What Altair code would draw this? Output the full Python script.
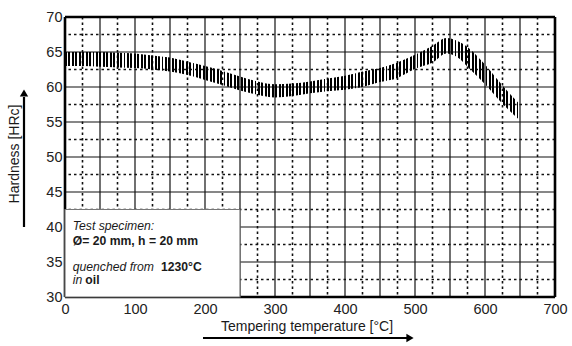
import altair as alt
import pandas as pd

# ---- data ----
temps = [0, 25, 50, 75, 100, 125, 150, 175, 200, 225, 250, 275, 300, 325, 350,
         375, 400, 425, 450, 475, 500, 525, 545, 560, 580, 600, 625, 650]
upper = [65.0, 65.0, 65.0, 64.9, 64.8, 64.5, 64.2, 63.6, 63.0, 62.3, 61.5, 60.8, 60.4, 60.5, 60.8,
         61.2, 61.6, 62.2, 62.7, 63.5, 64.6, 65.9, 67.0, 66.6, 65.3, 63.2, 60.2, 57.5]
lower = [63.0, 63.0, 62.9, 62.8, 62.7, 62.5, 62.2, 61.7, 61.0, 60.3, 59.5, 58.9, 58.5, 58.7, 59.1,
         59.4, 59.6, 60.0, 60.7, 61.3, 62.6, 63.5, 64.8, 64.3, 62.4, 60.4, 57.6, 55.2]

x_ticks = [0, 100, 200, 300, 400, 500, 600, 700]
y_ticks = [30, 35, 40, 45, 50, 55, 60, 65, 70]
x_solid = [50, 100, 150, 200, 250, 300, 350, 400, 450, 500, 550, 600, 650]
x_dotted = [25, 75, 125, 175, 225, 275, 325, 375, 425, 475, 525, 575, 625, 675]
y_solid = [35, 40, 45, 50, 55, 60, 65]
y_dotted = [32.5, 37.5, 42.5, 47.5, 52.5, 57.5, 62.5, 67.5]

band = pd.DataFrame({"t": temps, "hi": upper, "lo": lower})
one = pd.DataFrame({"k": [0]})

FONT = "Liberation Sans"
W, H = 490, 280

xs = alt.Scale(domain=[0, 700], nice=False, zero=False)
ys = alt.Scale(domain=[30, 70], nice=False, zero=False)

AX_X = alt.Axis(values=x_ticks, title=None, ticks=False, domain=False, grid=False, labelPadding=5,
                labelFontSize=14.5, labelColor="#222", labelFont=FONT, format="d",
                labelOverlap=False, labelFlush=False)
AX_Y = alt.Axis(values=y_ticks, title=None, ticks=False, domain=False, grid=False, labelPadding=3,
                labelFontSize=14.5, labelColor="#222", labelFont=FONT, format="d",
                labelOverlap=False, labelFlush=False)
NX = dict(scale=xs, axis=AX_X)
NY = dict(scale=ys, axis=AX_Y)

vs = alt.Chart(pd.DataFrame({"v": x_solid})).mark_rule(color="#111", strokeWidth=1.2).encode(
    x=alt.X("v:Q", **NX))
vd = alt.Chart(pd.DataFrame({"v": x_dotted})).mark_rule(color="#111", strokeWidth=1.6,
                                                        strokeDash=[2.5, 3]).encode(
    x=alt.X("v:Q", **NX))
hs = alt.Chart(pd.DataFrame({"v": y_solid})).mark_rule(color="#111", strokeWidth=1.2).encode(
    y=alt.Y("v:Q", **NY))
hd = alt.Chart(pd.DataFrame({"v": y_dotted})).mark_rule(color="#111", strokeWidth=1.6,
                                                        strokeDash=[2.5, 3]).encode(
    y=alt.Y("v:Q", **NY))

frame_v = alt.Chart(pd.DataFrame({"v": [0, 700]})).mark_rule(color="black", strokeWidth=2.6).encode(
    x=alt.X("v:Q", **NX))
frame_h = alt.Chart(pd.DataFrame({"v": [30, 70]})).mark_rule(color="black", strokeWidth=2.6).encode(
    y=alt.Y("v:Q", **NY))

# hatched band via a striped linear gradient
n_per = 132
duty = 0.55
stops = []
for i in range(n_per):
    a = i / n_per
    b = (i + duty) / n_per
    c = (i + 1) / n_per
    stops += [alt.GradientStop(offset=a, color="#000000"),
              alt.GradientStop(offset=b, color="#000000"),
              alt.GradientStop(offset=b, color="rgba(0,0,0,0)"),
              alt.GradientStop(offset=c, color="rgba(0,0,0,0)")]
grad = alt.Gradient(gradient="linear", stops=stops, x1=0, x2=1, y1=0, y2=0)

area = alt.Chart(band).mark_area(color=grad, interpolate="monotone").encode(
    x=alt.X("t:Q", **NX), y=alt.Y("hi:Q", **NY), y2="lo:Q")

box = alt.Chart(one).mark_rect(fill="white", stroke="#777", strokeWidth=1.2).encode(
    x=alt.X(datum=0, **NX), x2=alt.datum(250), y=alt.Y(datum=30, **NY), y2=alt.datum(42.5))


def txt(s, x, y, style="normal", weight="normal", size=12.2):
    return alt.Chart(one).mark_text(text=s, align="left", baseline="alphabetic", font=FONT,
                                    fontSize=size, fontStyle=style, fontWeight=weight,
                                    color="#1a1a1a").encode(x=alt.X(datum=x, **NX),
                                                            y=alt.Y(datum=y, **NY))


texts = [
    txt("Test specimen:", 11, 39.57, style="italic"),
    txt("Ø= 20 mm, h = 20 mm", 11, 37.43, weight="bold"),
    txt("quenched from", 11, 33.78, style="italic"),
    txt("1230°C", 137, 33.78, weight="bold"),
    txt("in", 11, 31.92, style="italic"),
    txt("oil", 29, 31.92, weight="bold"),
]

# axis titles with arrows (outside the plot area, pixel positioned)
ytitle = alt.Chart(one).mark_text(text="Hardness [HRc]", angle=270, font=FONT, fontSize=14,
                                  color="#1a1a1a", align="center", baseline="middle").encode(
    x=alt.value(-50), y=alt.value(137))
yarrow = alt.Chart(one).mark_rule(color="black", strokeWidth=2.2).encode(
    x=alt.value(-41), y=alt.value(210), y2=alt.value(80))
yhead = alt.Chart(one).mark_point(shape="triangle-up", filled=True, color="black", size=70,
                                  opacity=1).encode(x=alt.value(-41), y=alt.value(76))
xtitle = alt.Chart(one).mark_text(text="Tempering temperature [°C]", font=FONT, fontSize=14,
                                  color="#1a1a1a", align="center", baseline="middle").encode(
    x=alt.value(242), y=alt.value(310))
xarrow = alt.Chart(one).mark_rule(color="black", strokeWidth=2.2).encode(
    x=alt.value(138), x2=alt.value(342), y=alt.value(321))
xhead = alt.Chart(one).mark_point(shape="triangle-right", filled=True, color="black", size=70,
                                  opacity=1).encode(x=alt.value(345), y=alt.value(321))

chart = alt.layer(
    vd, hd, vs, hs, frame_v, frame_h, area, box, *texts,
    ytitle, yarrow, yhead, xtitle, xarrow, xhead
).properties(
    width=W, height=H,
    autosize=alt.AutoSizeParams(type="none"),
    padding={"left": 65, "top": 17, "right": 17, "bottom": 49},
).configure_view(stroke=None).configure(background="white")

chart.save("out.html", embed_options={"renderer": "svg", "actions": False})
